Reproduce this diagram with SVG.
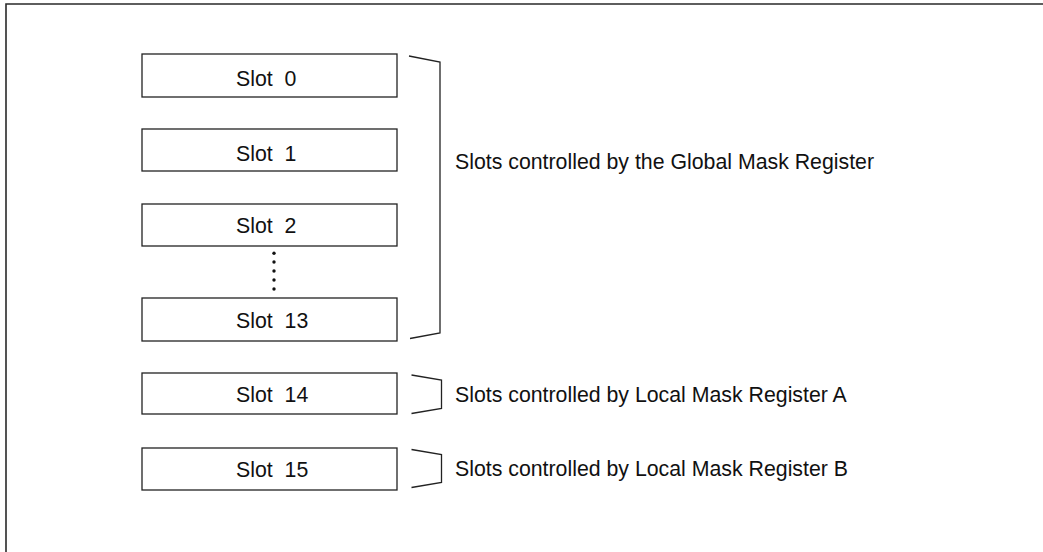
<svg xmlns="http://www.w3.org/2000/svg" width="1043" height="552" viewBox="0 0 1043 552">
<style>
.frame{fill:none;stroke:#2a2a2a;stroke-width:1.6}
.box{fill:#fff;stroke:#222;stroke-width:1.3}
.br{fill:none;stroke:#222;stroke-width:1.3}
.t{font-family:"Liberation Sans",Arial,sans-serif;font-size:21.3px;fill:#111;white-space:pre}
.dot{fill:#111}
</style>
<rect width="1043" height="552" fill="#fff"/>
<path class="frame" d="M6,552 V4 H1043"/>
<g id="slot0"><rect class="box" x="142" y="54" width="255" height="43"/><text class="t" x="236" y="85.5" xml:space="preserve">Slot  0</text></g>
<g id="slot1"><rect class="box" x="142" y="129" width="255" height="42"/><text class="t" x="236" y="160.5" xml:space="preserve">Slot  1</text></g>
<g id="slot2"><rect class="box" x="142" y="204" width="255" height="42"/><text class="t" x="236" y="232.5" xml:space="preserve">Slot  2</text></g>
<g id="slot13"><rect class="box" x="142" y="298" width="255" height="43"/><text class="t" x="236" y="327.5" xml:space="preserve">Slot  13</text></g>
<g id="slot14"><rect class="box" x="142" y="373" width="255" height="41"/><text class="t" x="236" y="401.5" xml:space="preserve">Slot  14</text></g>
<g id="slot15"><rect class="box" x="142" y="448" width="255" height="42"/><text class="t" x="236" y="477" xml:space="preserve">Slot  15</text></g>
<g id="ellipsis">
<circle class="dot" cx="274" cy="253.3" r="1.7"/>
<circle class="dot" cx="274" cy="262" r="1.7"/>
<circle class="dot" cx="274" cy="271" r="1.7"/>
<circle class="dot" cx="274" cy="280" r="1.7"/>
<circle class="dot" cx="274" cy="289" r="1.7"/>
</g>
<g id="connectors">
<path class="br" d="M409,56 L440,62 V333 L410,338.5"/>
<path class="br" d="M411.5,375 L441.5,380 V408.5 L411.5,413.5"/>
<path class="br" d="M411.5,449.5 L441.5,454.5 V482.5 L411.5,487.5"/>
</g>
<g id="label-global"><text class="t" x="455" y="169">Slots controlled by the Global Mask Register</text></g>
<g id="label-a"><text class="t" x="455" y="402">Slots controlled by Local Mask Register A</text></g>
<g id="label-b"><text class="t" x="455" y="475.5">Slots controlled by Local Mask Register B</text></g>
</svg>
